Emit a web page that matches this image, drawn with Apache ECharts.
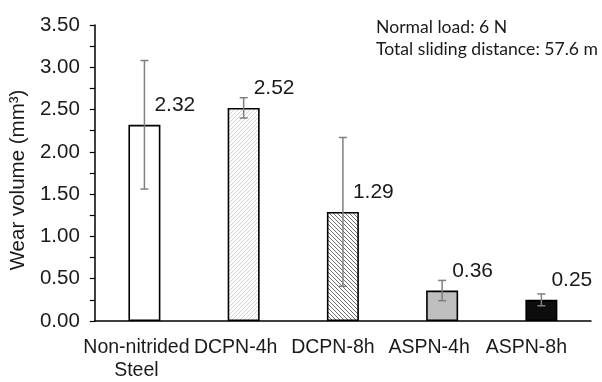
<!DOCTYPE html>
<html>
<head>
<meta charset="utf-8">
<script src="https://cdn.jsdelivr.net/npm/echarts@6/dist/echarts.min.js"></script>
<style>
html,body{margin:0;padding:0;background:#fff;}
#chart{width:602px;height:382px;}
</style>
</head>
<body>
<div id="chart"></div>
<script>
const categories = ['Non-nitrided\nSteel', 'DCPN-4h', 'DCPN-8h', 'ASPN-4h', 'ASPN-8h'];
const wearVolume = [2.32, 2.52, 1.29, 0.36, 0.25];
const errorSize = [0.76, 0.12, 0.88, 0.12, 0.07];
const yTicks = { min: 0, max: 3.5, interval: 0.5 };
const yAxisTitle = 'Wear volume (mm³)';
const notes = ['Normal load: 6 N', 'Total sliding distance: 57.6 m'];

// styling only: leftward nudge of each category label (px)
const labelNudge = [8, 8, 10, 13, 15];

function hatch(dir, lineColor, period) {
  const c = document.createElement('canvas');
  c.width = period; c.height = period;
  const g = c.getContext('2d');
  g.fillStyle = '#ffffff';
  g.fillRect(0, 0, period, period);
  g.fillStyle = lineColor;
  for (let i = 0; i < period; i++) {
    const x = dir === '/' ? period - 1 - i : i;
    g.fillRect(x, i, 1, 1);
  }
  return { image: c, repeat: 'repeat' };
}

const fills = [
  '#ffffff',
  hatch('/', '#d4d4d4', 4),
  hatch('\\', '#6f6f6f', 4),
  '#bfbfbf',
  '#0d0d0d'
];

const FONT = 'Liberation Sans, Arial, sans-serif';
const chart = echarts.init(document.getElementById('chart'), null, { renderer: 'canvas' });

const option = {
  animation: false,
  backgroundColor: '#ffffff',
  textStyle: { fontFamily: FONT },
  grid: { left: 91, right: 11, top: 25, bottom: 59, containLabel: false },
  xAxis: {
    type: 'category',
    data: categories.map((c, i) => ({
      value: c,
      textStyle: { padding: [0, labelNudge[i] * 2, 0, 0] }
    })),
    axisLine: { lineStyle: { color: '#000', width: 1.5 } },
    axisTick: { show: false },
    axisLabel: {
      interval: 0,
      color: '#1a1a1a',
      fontSize: 19.5,
      lineHeight: 23,
      margin: 15,
      fontFamily: FONT
    }
  },
  yAxis: {
    type: 'value',
    min: yTicks.min,
    max: yTicks.max,
    interval: yTicks.interval,
    name: yAxisTitle,
    nameLocation: 'middle',
    nameGap: 61,
    nameRotate: 90,
    nameTextStyle: { color: '#1a1a1a', fontSize: 20.5, fontFamily: FONT, padding: [0, 14, 0, 0] },
    axisLine: { show: true, lineStyle: { color: '#000', width: 1.5 } },
    axisTick: { show: true, inside: false, length: 5, lineStyle: { color: '#000', width: 1.2 } },
    minorTick: { show: true, splitNumber: 2, length: 5, lineStyle: { color: '#000', width: 1.2 } },
    splitLine: { show: false },
    axisLabel: {
      color: '#1a1a1a',
      fontSize: 20.5,
      margin: 15,
      formatter: v => v.toFixed(2),
      fontFamily: FONT
    }
  },
  series: [
    {
      type: 'bar',
      barWidth: 32,
      data: wearVolume.map((v, i) => ({
        value: v,
        itemStyle: { color: fills[i], borderColor: '#000', borderWidth: 1.6 }
      })),
      label: {
        show: true,
        position: [26, -30],
        formatter: p => p.value.toFixed(2),
        color: '#1a1a1a',
        fontSize: 21,
        fontFamily: FONT
      },
      z: 2
    },
    {
      type: 'custom',
      z: 5,
      data: wearVolume.map((v, i) => [i, v - errorSize[i], v + errorSize[i]]),
      renderItem: function (params, api) {
        const x = api.coord([api.value(0), 0])[0];
        const lo = api.coord([api.value(0), api.value(1)])[1];
        const hi = api.coord([api.value(0), api.value(2)])[1];
        const hw = 4;
        const style = { stroke: '#7f7f7f', lineWidth: 1.5 };
        return {
          type: 'group',
          children: [
            { type: 'line', shape: { x1: x, y1: hi, x2: x, y2: lo }, style: style },
            { type: 'line', shape: { x1: x - hw, y1: hi, x2: x + hw, y2: hi }, style: style },
            { type: 'line', shape: { x1: x - hw, y1: lo, x2: x + hw, y2: lo }, style: style }
          ]
        };
      }
    }
  ],
  graphic: [
    {
      type: 'text', x: 376, y: 27,
      style: { text: notes[0], fontSize: 17.6, fontFamily: 'Lato, sans-serif', fill: '#1a1a1a', verticalAlign: 'middle' }
    },
    {
      type: 'text', x: 376, y: 49,
      style: { text: notes[1], fontSize: 17.6, fontFamily: 'Lato, sans-serif', fill: '#1a1a1a', verticalAlign: 'middle' }
    }
  ]
};

chart.setOption(option);
</script>
</body>
</html>
